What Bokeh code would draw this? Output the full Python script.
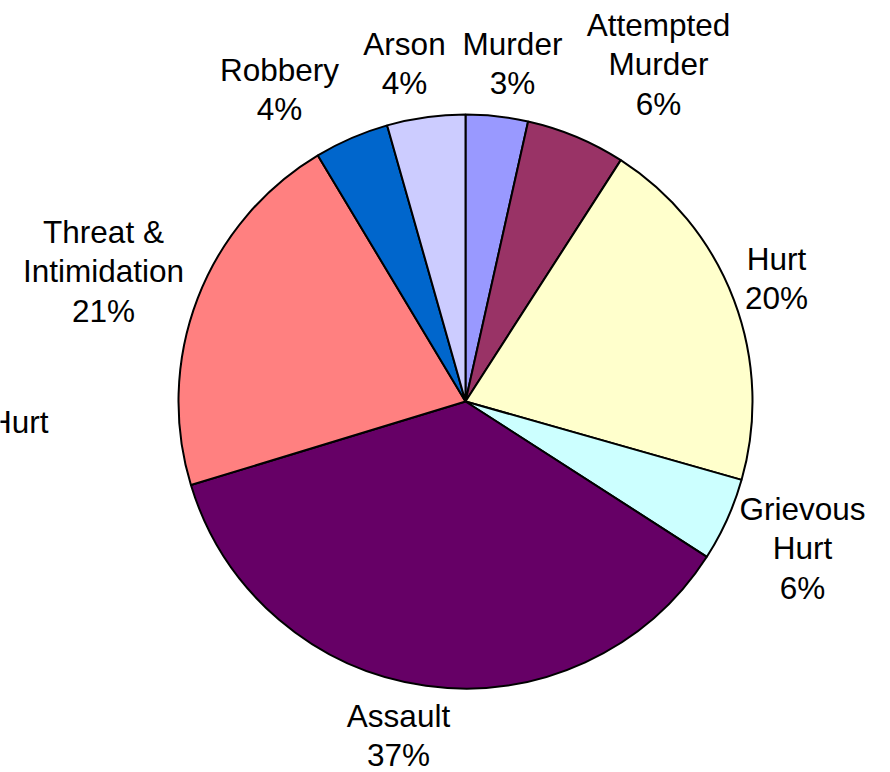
import math
from bokeh.plotting import figure
from bokeh.models import ColumnDataSource, Range1d
from bokeh.core.properties import value
from bokeh.embed import file_html
from bokeh.resources import INLINE

# ---- data ----
categories = ["Murder", "Attempted\nMurder", "Hurt", "Grievous\nHurt",
              "Assault", "Threat &\nIntimidation", "Robbery", "Arson"]
shares = [3.5, 5.6, 20.3, 4.7, 36.2, 21.1, 4.2, 4.4]
pct_labels = ["3%", "6%", "20%", "6%", "37%", "21%", "4%", "4%"]
colors = ["#9999FF", "#993366", "#FFFFCC", "#CCFFFF",
          "#660066", "#FF8080", "#0066CC", "#CCCCFF"]
extra_label = "Hurt"   # partly cut-off label at the left edge

# ---- layout (pixels in the page picture) ----
W, H = 890, 772
CX_IMG, CY_IMG, R = 465, 401, 287
TEXT_SHIFT = -9
# label anchors: centre x, first baseline y
LABEL_ANCHOR = [(512, 52), (658, 33), (776, 267), (802, 517),
                (398, 724), (103, 240), (279, 78), (404, 52)]
EXTRA_ANCHOR = (48, 430)
LINE_STEP = 39.7
FONT = "Liberation Sans"
FSIZE = "31.5px"


def dx(px):
    return px


def dy(py):
    return H - py


total = sum(shares)
starts, ends = [], []
cum = 0.0
for s in shares:
    starts.append(math.pi / 2 - 2 * math.pi * cum / total)
    cum += s
    ends.append(math.pi / 2 - 2 * math.pi * cum / total)

p = figure(width=W, height=H, output_backend="svg", toolbar_location=None,
           x_range=Range1d(0, W), y_range=Range1d(0, H), min_border=0)
p.axis.visible = False
p.grid.visible = False
p.outline_line_color = None
p.background_fill_color = "white"
p.border_fill_color = "white"

src = ColumnDataSource(dict(start=starts, end=ends, color=colors))
p.wedge(x=dx(CX_IMG), y=dy(CY_IMG), radius=R, start_angle="start",
        end_angle="end", direction="clock", fill_color="color",
        line_color="black", line_width=2, source=src)

tx, ty, tt = [], [], []
for cat, pct, (ax, ay) in zip(categories, pct_labels, LABEL_ANCHOR):
    lines = cat.split("\n") + [pct]
    for i, ln in enumerate(lines):
        tx.append(dx(ax))
        ty.append(dy(ay + TEXT_SHIFT + i * LINE_STEP))
        tt.append(ln)

p.text(x=tx, y=ty, text=tt, text_align="center", text_baseline="alphabetic",
       text_font=value(FONT), text_font_size=FSIZE, text_color="black")
p.text(x=[dx(EXTRA_ANCHOR[0])], y=[dy(EXTRA_ANCHOR[1] + TEXT_SHIFT)],
       text=[extra_label], text_align="right", text_baseline="alphabetic",
       text_font=value(FONT), text_font_size=FSIZE, text_color="black")

open("out.html", "w").write(file_html(p, INLINE))
